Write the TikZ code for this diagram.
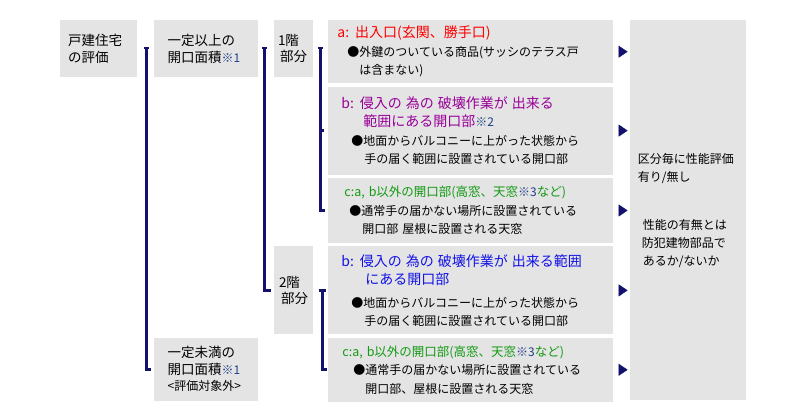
\documentclass[tikz,border=0pt]{standalone}
\usepackage{fontspec}
\setmainfont{Noto Sans CJK JP}
\usepackage{xcolor}
\definecolor{boxgray}{HTML}{E4E4E4}
\definecolor{linenavy}{HTML}{12126E}
\definecolor{notenavy}{HTML}{1F3F8A}
\definecolor{titlered}{HTML}{FF0000}
\definecolor{titlepurple}{HTML}{990099}
\definecolor{titlegreen}{HTML}{129A12}
\definecolor{titleblue}{HTML}{1212E6}
\usepackage{tikz}
\usetikzlibrary{arrows.meta, positioning, calc}
\newcommand{\notemark}[1]{{\fontsize{12}{12}\selectfont\color{notenavy}※#1}}
\newcommand{\titlesize}{\fontsize{14}{18.5}\selectfont}
\newcommand{\subtitlesize}{\fontsize{12.5}{18.5}\selectfont}
\tikzstyle{labelbox} = [
  rectangle, fill=boxgray, inner sep=0pt,
  align=left, anchor=north west,
  font=\fontsize{13.5}{16.5}\selectfont
]
\tikzstyle{itembox} = [
  rectangle, fill=boxgray, inner sep=0pt,
  align=left, anchor=north west, text width=285pt,
  font=\fontsize{12}{18.5}\selectfont
]
\tikzstyle{resultbox} = [
  rectangle, fill=boxgray, inner sep=0pt,
  align=left, anchor=north west, text width=116pt,
  font=\fontsize{12}{18}\selectfont
]
\tikzstyle{bracket} = [
  line width=2.8pt, color=linenavy
]
\tikzstyle{pointer} = [
  -{Triangle[length=9pt,width=12pt]}, line width=0.4pt, color=linenavy,
  shorten <=5pt, shorten >=2pt
]

\begin{document}
\begin{tikzpicture}[x=1pt, y=1pt]
  \useasboundingbox (0,0) rectangle (804,420);

  % ── Left column ───────────────────────────────────────
  \node[labelbox, text width=77pt, minimum height=57pt]
    (home) at (60,400) {\hspace*{8pt}戸建住宅\\\hspace*{8pt}の評価};

  \node[labelbox, text width=104pt, minimum height=57pt,
        right=16pt of home.north east, anchor=north west]
    (upper) {\hspace*{14pt}一定以上の\\\hspace*{14pt}開口面積\notemark{1}};

  \node[labelbox, text width=39pt, minimum height=57pt,
        right=16pt of upper.north east, anchor=north west]
    (floor1) {\hspace*{4pt}1階\\\hspace*{6pt}部分};

  % ── Items ─────────────────────────────────────────────
  \node[itembox, minimum height=63pt,
        right=15pt of floor1.north east, anchor=north west]
    (itema) {\hspace*{9pt}{\titlesize\color{titlered}a: 出入口(玄関、勝手口)}\\
             \hspace*{19pt}●外鍵のついている商品(サッシのテラス戸\\
             \hspace*{31pt}は含まない)};

  \node[itembox, minimum height=88pt, below=3pt of itema.south west, anchor=north west]
    (itemb1) {\hspace*{13pt}{\titlesize\color{titlepurple}b: 侵入の 為の 破壊作業が 出来る}\\
              \hspace*{35pt}{\titlesize\color{titlepurple}範囲にある開口部}\notemark{2}\\
              \hspace*{23pt}●地面からバルコニーに上がった状態から\\
              \hspace*{36pt}手の届く範囲に設置されている開口部};

  \node[itembox, minimum height=65pt, below=3pt of itemb1.south west, anchor=north west]
    (itemc1) {\hspace*{16pt}{\subtitlesize\color{titlegreen}c:a, b以外の開口部(高窓、天窓\notemark{3}など)}\\
              \hspace*{21pt}●通常手の届かない場所に設置されている\\
              \hspace*{34pt}開口部 屋根に設置される天窓};

  \node[itembox, minimum height=88pt, below=3pt of itemc1.south west, anchor=north west]
    (itemb2) {\hspace*{13pt}{\titlesize\color{titleblue}b: 侵入の 為の 破壊作業が 出来る範囲}\\
              \hspace*{37pt}{\titlesize\color{titleblue}にある開口部}\\[4pt]
              \hspace*{23pt}●地面からバルコニーに上がった状態から\\
              \hspace*{36pt}手の届く範囲に設置されている開口部};

  \node[itembox, minimum height=64pt, below=3pt of itemb2.south west, anchor=north west]
    (itemc2) {\hspace*{14pt}{\subtitlesize\color{titlegreen}c:a, b以外の開口部(高窓、天窓\notemark{3}など)}\\
              \hspace*{25pt}●通常手の届かない場所に設置されている\\
              \hspace*{37pt}開口部、屋根に設置される天窓};

  % ── Second floor / below limit ────────────────────────
  \node[labelbox, text width=39pt, minimum height=88pt]
    (floor2) at (floor1.north west |- itemb2.north west) {\hspace*{5pt}2階\\\hspace*{7pt}部分};

  \node[labelbox, text width=104pt, minimum height=63pt]
    (lower) at (upper.north west |- itemc2.north west)
    {\hspace*{14pt}一定未満の\\\hspace*{14pt}開口面積\notemark{1}\\
     \hspace*{14pt}{\fontsize{12}{15}\selectfont <評価対象外>}};

  % ── Result ────────────────────────────────────────────
  \node[resultbox, minimum height=380pt, right=16pt of itema.north east, anchor=north west]
    (result) {\hspace*{8pt}区分毎に性能評価\\\hspace*{8pt}有り/無し\\[30pt]
              \hspace*{13pt}性能の有無とは\\\hspace*{12pt}防犯建物部品で\\
              \hspace*{13pt}あるか/ないか};

  % ── Brackets ──────────────────────────────────────────
  \draw[bracket] ([xshift=-9.5pt,yshift=-28pt]upper.north west) -- ++(5pt,0)
                 ([xshift=-7pt,yshift=-28pt]upper.north west) |- ([xshift=-2pt]lower.west);
  \draw[bracket] ([xshift=-11.5pt,yshift=-28pt]floor1.north west) -- ++(5pt,0)
                 ([xshift=-9pt,yshift=-28pt]floor1.north west) |- ([xshift=-3pt]floor2.west);
  \draw[bracket] ([xshift=-10.5pt,yshift=-28pt]itema.north west) -- ++(5pt,0)
                 ([xshift=-8pt,yshift=-28pt]itema.north west) |- ([xshift=-3pt]itemc1.west)
                 ([xshift=-8pt]itemb1.west) -- ++(4pt,0);
  \draw[bracket] ([xshift=-9.5pt]itemb2.west) -- ++(7pt,0)
                 ([xshift=-6pt]itemb2.west) |- ([xshift=-1pt]itemc2.west);

  % ── Pointers ──────────────────────────────────────────
  \draw[pointer] (itema.east)  -- (itema.east -| result.west);
  \draw[pointer] (itemb1.east) -- (itemb1.east -| result.west);
  \draw[pointer] (itemc1.east) -- (itemc1.east -| result.west);
  \draw[pointer] (itemb2.east) -- (itemb2.east -| result.west);
  \draw[pointer] (itemc2.east) -- (itemc2.east -| result.west);

\end{tikzpicture}
\end{document}
